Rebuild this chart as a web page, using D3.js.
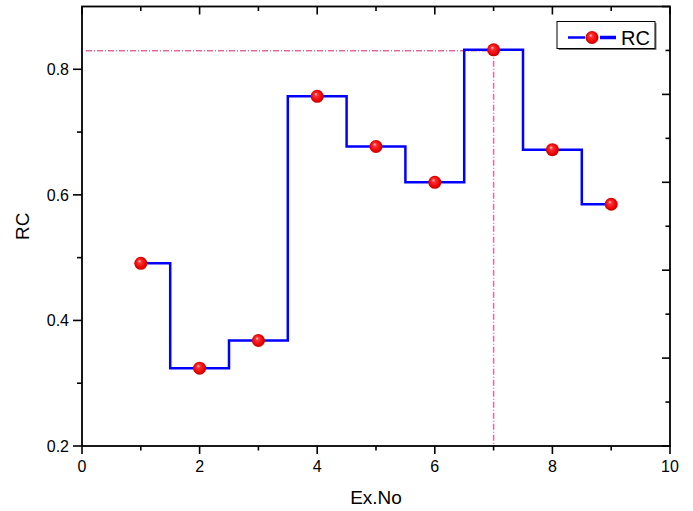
<!DOCTYPE html>
<html><head><meta charset="utf-8">
<script src="https://cdn.jsdelivr.net/npm/d3@7"></script>
<style>body{margin:0;background:#fff}svg{display:block;font-family:"Liberation Sans",Arial,sans-serif}</style>
</head><body><svg id="c" width="693" height="511"></svg>
<script>
const exNo = [1,2,3,4,5,6,7,8,9];
const rc = [0.491,0.324,0.368,0.757,0.677,0.620,0.831,0.672,0.585];
const xTicks = [0,2,4,6,8,10];
const yTicks = [0.2,0.4,0.6,0.8];
const seriesName = "RC";
const maxIndex = 6;

const svg = d3.select("#c");
const L=82,R=670,T=6.5,B=446;
const x = d3.scaleLinear().domain([0,10]).range([L,R]);
const y = d3.scaleLinear().domain([0.2,0.9]).range([B,T]);
const yr = d3.scaleLinear().domain([0,5]).range([B,T]);

const defs = svg.append("defs");
const g = defs.append("radialGradient").attr("id","ball").attr("cx","50%").attr("cy","50%").attr("r","55%").attr("fx","38%").attr("fy","32%");
g.append("stop").attr("offset","0%").attr("stop-color","#ffd0d0");
g.append("stop").attr("offset","25%").attr("stop-color","#ff3030");
g.append("stop").attr("offset","75%").attr("stop-color","#e80000");
g.append("stop").attr("offset","100%").attr("stop-color","#b00000");

// reference lines
const px = x(exNo[maxIndex]), py = y(rc[maxIndex]);
svg.append("line").attr("x1",x(0)+4).attr("x2",px).attr("y1",py+1).attr("y2",py+1)
  .attr("stroke","#d8206a").attr("stroke-width",1).attr("stroke-dasharray","6,2,1,2");
svg.append("line").attr("x1",px).attr("x2",px).attr("y1",py).attr("y2",B)
  .attr("stroke","#ff5aaa").attr("stroke-width",1.5).attr("stroke-dasharray","6,2,1,2");

// step line
const line = d3.line().x((d,i)=>x(exNo[i])).y(d=>y(d)).curve(d3.curveStep);
svg.append("path").attr("d",line(rc)).attr("fill","none").attr("stroke","#0000ff").attr("stroke-width",2.5);

svg.selectAll("circle.pt").data(rc).enter().append("circle").attr("class","pt")
  .attr("cx",(d,i)=>x(exNo[i])).attr("cy",d=>y(d)).attr("r",6.5).attr("fill","url(#ball)");

// axes
const minorX = d3.range(1,10,2);
const minorY = [0.3,0.5,0.7];
const ax = svg.append("g").attr("stroke","#000").attr("stroke-width",1.6);
function tick(x1,y1,x2,y2){ax.append("line").attr("x1",x1).attr("y1",y1).attr("x2",x2).attr("y2",y2);}
xTicks.forEach(v=>{tick(x(v),B,x(v),B+8);tick(x(v),T,x(v),T+8);});
minorX.forEach(v=>{tick(x(v),B,x(v),B+4.5);tick(x(v),T,x(v),T+4.5);});
yTicks.forEach(v=>{tick(L,y(v),L-9,y(v));});
minorY.forEach(v=>{tick(L,y(v),L-5,y(v));});
d3.range(0,6).forEach(v=>tick(R,yr(v),R-8,yr(v)));
d3.range(0.5,5,1).forEach(v=>tick(R,yr(v),R-4.5,yr(v)));
ax.append("rect").attr("x",L).attr("y",T).attr("width",R-L).attr("height",B-T).attr("fill","none").attr("stroke-width",1.8);

xTicks.forEach(v=>svg.append("text").attr("x",x(v)).attr("y",B+26).attr("text-anchor","middle").attr("font-size",16).text(v));
yTicks.forEach(v=>svg.append("text").attr("x",L-13).attr("y",y(v)+6).attr("text-anchor","end").attr("font-size",16).text(v.toFixed(1)));

svg.append("text").attr("x",(L+R)/2).attr("y",504).attr("text-anchor","middle").attr("font-size",19).text("Ex.No");
svg.append("text").attr("transform","translate(29,"+((T+B)/2)+") rotate(-90)").attr("text-anchor","middle").attr("font-size",19).text(seriesName);

// legend
const lg = svg.append("g");
lg.append("rect").attr("x",558.5).attr("y",23).attr("width",98).attr("height",27).attr("fill","#777");
lg.append("rect").attr("x",557).attr("y",21.5).attr("width",98).attr("height",27).attr("fill","#fff").attr("stroke","#000").attr("stroke-width",1);
lg.append("line").attr("x1",568).attr("x2",585).attr("y1",37.5).attr("y2",37.5).attr("stroke","#0000ff").attr("stroke-width",2.5);
lg.append("line").attr("x1",600).attr("x2",616).attr("y1",37.5).attr("y2",37.5).attr("stroke","#0000ff").attr("stroke-width",3.5);
lg.append("circle").attr("cx",592).attr("cy",37.5).attr("r",6.5).attr("fill","url(#ball)");
lg.append("text").attr("x",621).attr("y",45).attr("font-size",20).text(seriesName);
</script></body></html>
